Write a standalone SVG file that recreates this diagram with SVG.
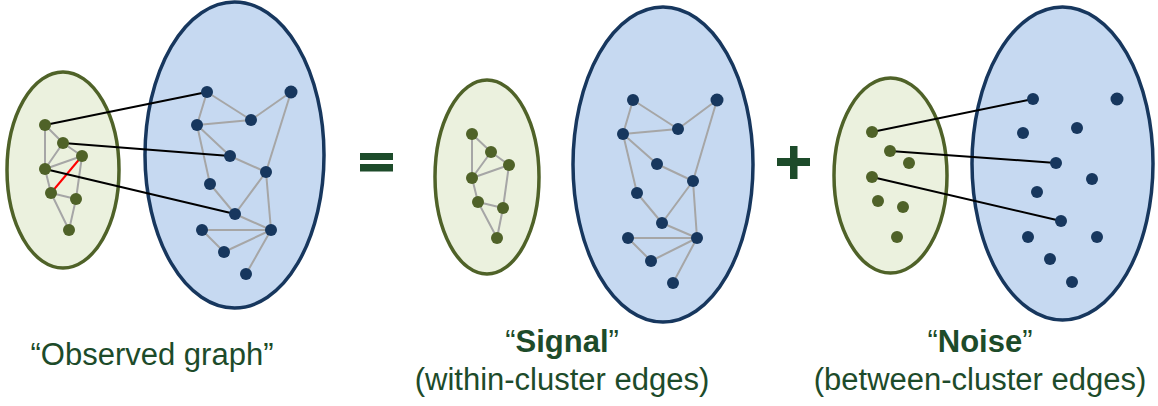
<svg xmlns="http://www.w3.org/2000/svg" width="1158" height="406" viewBox="0 0 1158 406">
<style>
.gc{fill:#EBF1DE;stroke:#4F6228;stroke-width:3.5}
.bc{fill:#C6D9F1;stroke:#17375E;stroke-width:3.5}
.gn{fill:#4F6228}
.bn{fill:#17375E}
.e{stroke:#A6A6A6;stroke-width:2;fill:none}
.x{stroke:#000;stroke-width:2;fill:none}
.r{stroke:#FF0000;stroke-width:2;fill:none}
.sym{fill:#1D4B2A}
.t{font-family:"Liberation Sans",Arial,sans-serif;font-size:31px;fill:#1D4B2A;text-anchor:middle}
.b{font-weight:bold}
</style>
<rect width="1158" height="406" fill="#fff"/>
<g id="clusters">
<ellipse id="obs-green" class="gc" cx="63" cy="170" rx="56" ry="98"/>
<ellipse id="obs-blue" class="bc" cx="234.5" cy="155" rx="89.5" ry="153"/>
<ellipse id="sig-green" class="gc" cx="487" cy="177" rx="52" ry="97"/>
<ellipse id="sig-blue" class="bc" cx="663" cy="164.5" rx="90" ry="157.5"/>
<ellipse id="noi-green" class="gc" cx="890.5" cy="175.5" rx="56.5" ry="97.5"/>
<ellipse id="noi-blue" class="bc" cx="1062.5" cy="163.5" rx="90.5" ry="156.5"/>
</g>
<g id="connectors">
<!-- observed green -->
<path class="e" d="M45 125L63 143M45 125L45 169M63 143L45 169M45 169L82 156M63 143L82 156M82 156L76 199M45 169L51 193M51 193L76 199M51 193L69 230M76 199L69 230"/>
<path class="r" d="M51 193L82 156"/>
<!-- observed blue -->
<path class="e" d="M207 92L251 120M207 92L197 125M291 92L251 120M291 92L266 172M197 125L251 120M197 125L230 156M197 125L210 184M230 156L266 172M266 172L235 214M266 172L271 230M210 184L235 214M235 214L271 230M202 230L271 230M202 230L224 252M224 252L271 230M271 230L246 274"/>
<path class="x" d="M45 125L207 92M63 143L230 156M45 169L235 214"/>
<!-- signal green -->
<path class="e" d="M472 134L491 152M472 134L472 178M491 152L472 178M472 178L509 165M491 152L509 165M509 165L503 208M472 178L478 202M478 202L503 208M478 202L497 238M503 208L497 238"/>
<!-- signal blue -->
<path class="e" d="M633 100L678 129M633 100L623 134M717 100L678 129M717 100L693 181M623 134L678 129M623 134L657 164M623 134L637 193M657 164L693 181M693 181L662 223M693 181L697 238M637 193L662 223M662 223L697 238M628 238L697 238M628 238L651 261M651 261L697 238M697 238L673 283"/>
<!-- noise between -->
<path class="x" d="M872 132L1033 99M890 151L1056 163M872 177L1061 221"/>
</g>
<g id="nodes">
<g id="obs-green-nodes" class="gn">
<circle id="og1" cx="45" cy="125" r="6"/><circle id="og2" cx="63" cy="143" r="6"/><circle id="og3" cx="82" cy="156" r="6"/><circle id="og4" cx="45" cy="169" r="6"/><circle id="og5" cx="51" cy="193" r="6"/><circle id="og6" cx="76" cy="199" r="6"/><circle id="og7" cx="69" cy="230" r="6"/>
</g>
<g id="obs-blue-nodes" class="bn">
<circle id="ob1" cx="207" cy="92" r="6"/><circle id="ob2" cx="291" cy="92" r="6.5"/><circle id="ob3" cx="197" cy="125" r="6"/><circle id="ob4" cx="251" cy="120" r="6"/><circle id="ob5" cx="230" cy="156" r="6"/><circle id="ob6" cx="266" cy="172" r="6"/><circle id="ob7" cx="210" cy="184" r="6"/><circle id="ob8" cx="235" cy="214" r="6"/><circle id="ob9" cx="202" cy="230" r="6"/><circle id="ob10" cx="271" cy="230" r="6"/><circle id="ob11" cx="224" cy="252" r="6"/><circle id="ob12" cx="246" cy="274" r="6"/>
</g>
<g id="sig-green-nodes" class="gn">
<circle id="sg1" cx="472" cy="134" r="6"/><circle id="sg2" cx="491" cy="152" r="6"/><circle id="sg3" cx="509" cy="165" r="6"/><circle id="sg4" cx="472" cy="178" r="6"/><circle id="sg5" cx="478" cy="202" r="6"/><circle id="sg6" cx="503" cy="208" r="6"/><circle id="sg7" cx="497" cy="238" r="6"/>
</g>
<g id="sig-blue-nodes" class="bn">
<circle id="sb1" cx="633" cy="100" r="6"/><circle id="sb2" cx="717" cy="100" r="6.5"/><circle id="sb3" cx="623" cy="134" r="6"/><circle id="sb4" cx="678" cy="129" r="6"/><circle id="sb5" cx="657" cy="164" r="6"/><circle id="sb6" cx="693" cy="181" r="6"/><circle id="sb7" cx="637" cy="193" r="6"/><circle id="sb8" cx="662" cy="223" r="6"/><circle id="sb9" cx="628" cy="238" r="6"/><circle id="sb10" cx="697" cy="238" r="6"/><circle id="sb11" cx="651" cy="261" r="6"/><circle id="sb12" cx="673" cy="283" r="6"/>
</g>
<g id="noi-green-nodes" class="gn">
<circle id="ng1" cx="872" cy="132" r="6"/><circle id="ng2" cx="890" cy="151" r="6"/><circle id="ng3" cx="909" cy="163" r="6"/><circle id="ng4" cx="872" cy="177" r="6"/><circle id="ng5" cx="878" cy="201" r="6"/><circle id="ng6" cx="903" cy="207" r="6"/><circle id="ng7" cx="897" cy="237" r="6"/>
</g>
<g id="noi-blue-nodes" class="bn">
<circle id="nb1" cx="1033" cy="99" r="6"/><circle id="nb2" cx="1117" cy="99" r="6.5"/><circle id="nb3" cx="1023" cy="133" r="6"/><circle id="nb4" cx="1077" cy="128" r="6"/><circle id="nb5" cx="1056" cy="163" r="6"/><circle id="nb6" cx="1092" cy="179" r="6"/><circle id="nb7" cx="1037" cy="192" r="6"/><circle id="nb8" cx="1061" cy="221" r="6"/><circle id="nb9" cx="1028" cy="237" r="6"/><circle id="nb10" cx="1097" cy="237" r="6"/><circle id="nb11" cx="1050" cy="259" r="6"/><circle id="nb12" cx="1072" cy="282" r="6"/>
</g>
</g>
<g id="equals" class="sym">
<rect x="360" y="153" width="33" height="7"/>
<rect x="360" y="164" width="33" height="7.5"/>
</g>
<g id="plus" class="sym">
<rect x="790" y="146" width="7.5" height="33"/>
<rect x="777" y="158" width="33" height="8"/>
</g>
<g id="labels">
<text class="t" x="152" y="365">“Observed graph”</text>
<text class="t" x="562" y="352">“<tspan class="b">Signal</tspan>”</text>
<text class="t" x="562" y="390">(within-cluster edges)</text>
<text class="t" x="980" y="352">“<tspan class="b">Noise</tspan>”</text>
<text class="t" x="980" y="390">(between-cluster edges)</text>
</g>
</svg>
